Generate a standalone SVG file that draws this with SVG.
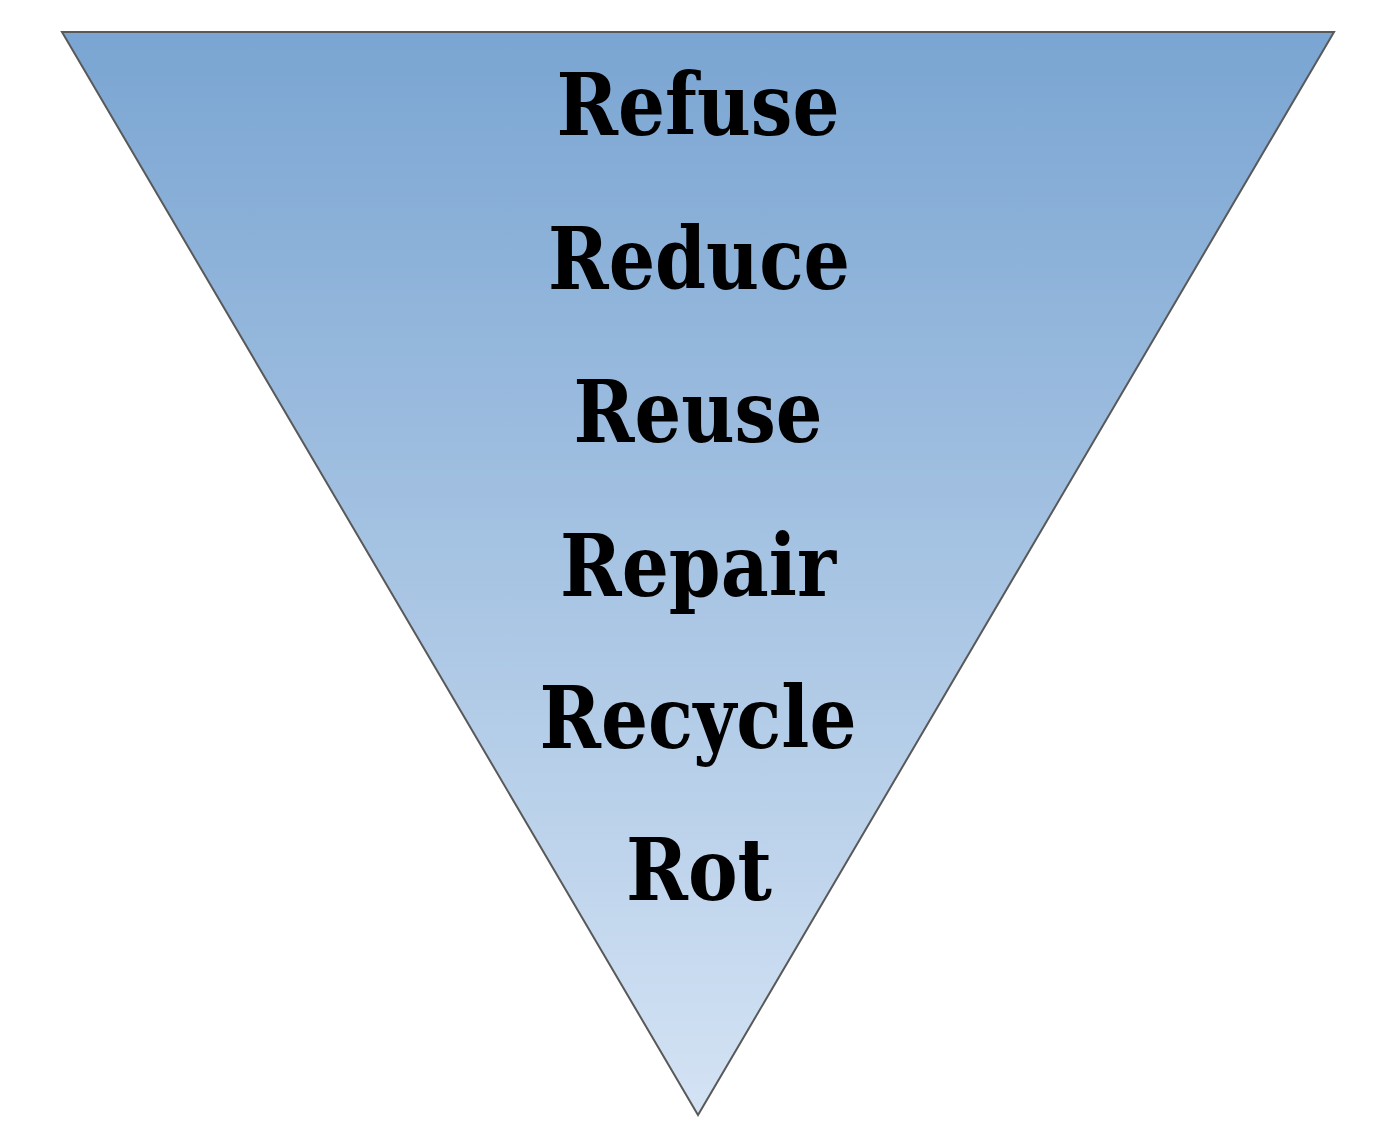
<svg xmlns="http://www.w3.org/2000/svg" width="1398" height="1138" viewBox="0 0 1398 1138">
<defs>
<linearGradient id="g" x1="0" y1="32" x2="0" y2="1115" gradientUnits="userSpaceOnUse">
<stop offset="0" stop-color="#7AA5D2"/>
<stop offset="1" stop-color="#D4E3F4"/>
</linearGradient>
</defs>
<style>
.t{font-family:"DejaVu Serif","Liberation Serif",serif;font-weight:bold;font-size:86px;fill:#000;text-anchor:middle}
</style>
<rect width="1398" height="1138" fill="#fff"/>
<g id="funnel">
<polygon points="62,32 1334,32 698,1115" fill="url(#g)" stroke="#595959" stroke-width="2" stroke-linejoin="miter"/>
</g>
<g id="labels">
<text class="t" x="698" y="135" textLength="283" lengthAdjust="spacingAndGlyphs">Refuse</text>
<text class="t" x="699" y="289" textLength="302" lengthAdjust="spacingAndGlyphs">Reduce</text>
<text class="t" x="698" y="442" textLength="249" lengthAdjust="spacingAndGlyphs">Reuse</text>
<text class="t" x="698" y="596" textLength="276" lengthAdjust="spacingAndGlyphs">Repair</text>
<text class="t" x="698" y="748" textLength="317" lengthAdjust="spacingAndGlyphs">Recycle</text>
<text class="t" x="699" y="900" textLength="146" lengthAdjust="spacingAndGlyphs">Rot</text>
</g>
</svg>
